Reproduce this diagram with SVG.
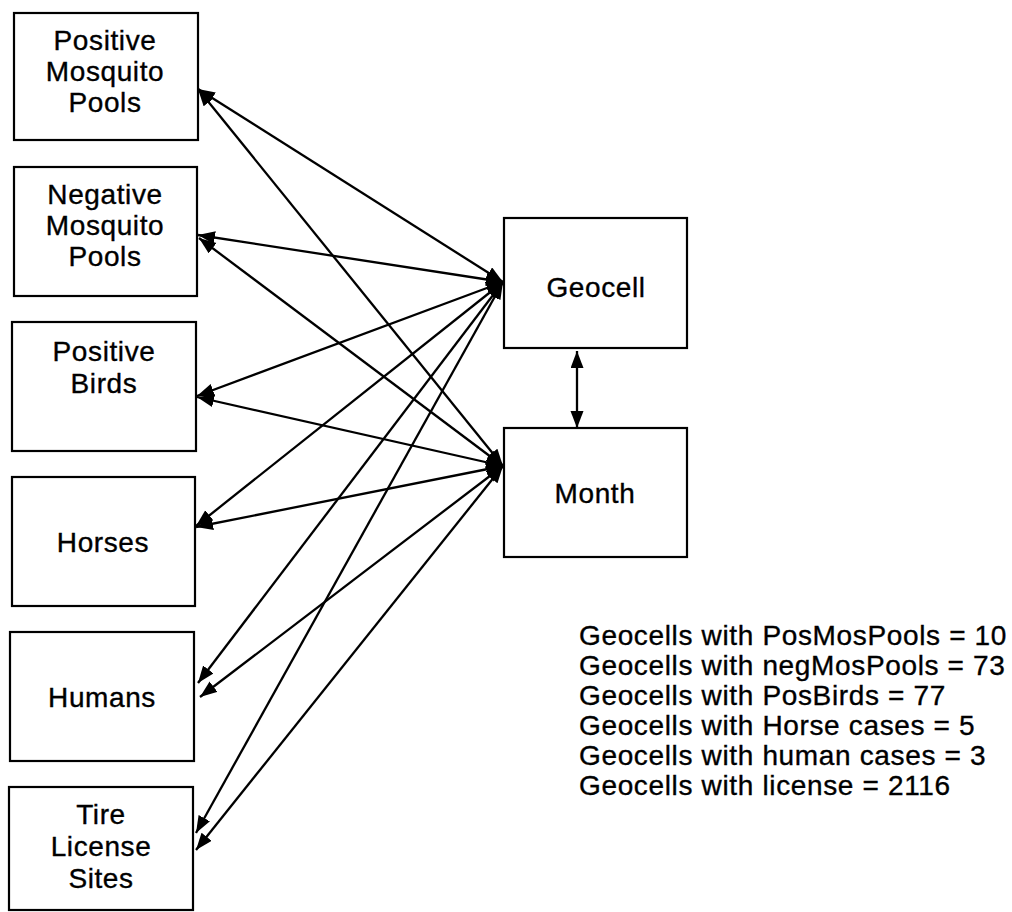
<svg xmlns="http://www.w3.org/2000/svg" width="1012" height="912" viewBox="0 0 1012 912">
<defs>
<marker id="ah" markerUnits="userSpaceOnUse" markerWidth="20" markerHeight="14" refX="17" refY="6.5" orient="auto-start-reverse">
<path d="M0,0 L17,6.5 L0,13 Z" fill="#000"/>
</marker>
<style>
.box{fill:#fff;stroke:#000;stroke-width:2.2}
.lbl{font-family:"Liberation Sans",Arial,sans-serif;font-size:28px;fill:#000;text-anchor:middle;letter-spacing:0.6px;stroke:#000;stroke-width:0.35}
.info{font-family:"Liberation Sans",Arial,sans-serif;font-size:28px;fill:#000;letter-spacing:0.65px;stroke:#000;stroke-width:0.35}
.ln{stroke:#000;stroke-width:2.3;fill:none;marker-start:url(#ah);marker-end:url(#ah)}
</style>
</defs>
<rect width="1012" height="912" fill="#fff"/>
<g id="connectors">
<line class="ln" x1="198" y1="89" x2="503" y2="282"/>
<line class="ln" x1="198" y1="89" x2="503" y2="466"/>
<line class="ln" x1="198" y1="235" x2="503" y2="282"/>
<line class="ln" x1="199" y1="238" x2="503" y2="466"/>
<line class="ln" x1="197" y1="396" x2="503" y2="282"/>
<line class="ln" x1="197" y1="397" x2="503" y2="466"/>
<line class="ln" x1="196" y1="526" x2="503" y2="282"/>
<line class="ln" x1="196" y1="527" x2="503" y2="466"/>
<line class="ln" x1="198" y1="683" x2="503" y2="282"/>
<line class="ln" x1="200" y1="697" x2="503" y2="466"/>
<line class="ln" x1="196" y1="833" x2="503" y2="282"/>
<line class="ln" x1="196" y1="850" x2="503" y2="466"/>
<line class="ln" x1="577" y1="351" x2="577" y2="428"/>
</g>
<g id="pos-mosquito">
<rect class="box" x="14" y="13" width="184" height="127"/>
<text class="lbl" x="105" y="50">Positive</text>
<text class="lbl" x="105" y="81">Mosquito</text>
<text class="lbl" x="105" y="112">Pools</text>
</g>
<g id="neg-mosquito">
<rect class="box" x="14" y="167" width="183" height="129"/>
<text class="lbl" x="105" y="204">Negative</text>
<text class="lbl" x="105" y="235">Mosquito</text>
<text class="lbl" x="105" y="266">Pools</text>
</g>
<g id="pos-birds">
<rect class="box" x="12" y="322" width="184" height="129"/>
<text class="lbl" x="104" y="361">Positive</text>
<text class="lbl" x="104" y="393">Birds</text>
</g>
<g id="horses">
<rect class="box" x="12" y="477" width="183" height="129"/>
<text class="lbl" x="103" y="552">Horses</text>
</g>
<g id="humans">
<rect class="box" x="10" y="632" width="184" height="129"/>
<text class="lbl" x="102" y="707">Humans</text>
</g>
<g id="tire">
<rect class="box" x="9" y="787" width="184" height="123"/>
<text class="lbl" x="101" y="824">Tire</text>
<text class="lbl" x="101" y="856">License</text>
<text class="lbl" x="101" y="888">Sites</text>
</g>
<g id="geocell">
<rect class="box" x="504" y="218" width="183" height="130"/>
<text class="lbl" x="596" y="297">Geocell</text>
</g>
<g id="month">
<rect class="box" x="504" y="428" width="183" height="129"/>
<text class="lbl" x="595" y="503">Month</text>
</g>
<g id="stats">
<text class="info" x="579" y="645">Geocells with PosMosPools = 10</text>
<text class="info" x="579" y="675">Geocells with negMosPools = 73</text>
<text class="info" x="579" y="705">Geocells with PosBirds = 77</text>
<text class="info" x="579" y="735">Geocells with Horse cases = 5</text>
<text class="info" x="579" y="765">Geocells with human cases = 3</text>
<text class="info" x="579" y="795">Geocells with license = 2116</text>
</g>
</svg>
